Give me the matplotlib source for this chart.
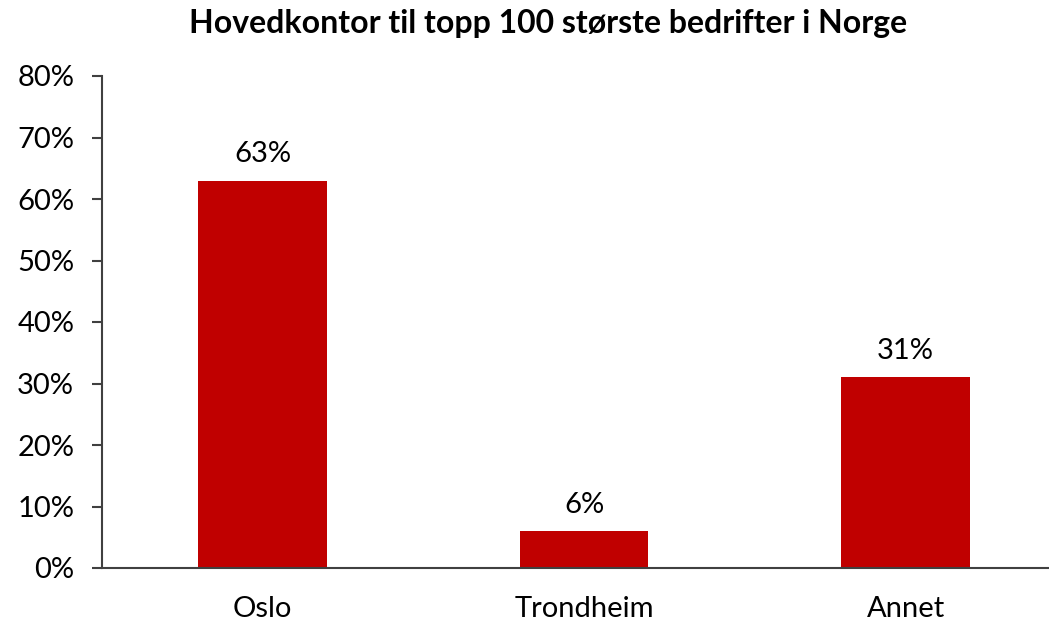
import matplotlib.pyplot as plt
from matplotlib.ticker import PercentFormatter

categories = ["Oslo", "Trondheim", "Annet"]
shares = [63, 6, 31]
labels = ["63%", "6%", "31%"]

plt.rcParams["font.family"] = ["Lato", "DejaVu Sans"]

fig = plt.figure(figsize=(10.49, 6.2), dpi=100)
ax = fig.add_axes([102 / 1049, 1 - 568 / 620, 1 - 102 / 1049, (568 - 76) / 620])

x = list(range(len(categories)))
bars = ax.bar(x, shares, width=0.4, color="#c00000")

for xi, v, lab in zip(x, shares, labels):
    ax.text(xi, v + 2.2, lab, ha="center", va="bottom", fontsize=21)

ax.set_xlim(-0.5, 2.446)
ax.set_ylim(0, 80)
ax.set_yticks(range(0, 81, 10))
ax.yaxis.set_major_formatter(PercentFormatter(decimals=0))
ax.set_xticks(x)
ax.set_xticklabels(categories)

ax.spines["top"].set_visible(False)
ax.spines["right"].set_visible(False)
for s in ("left", "bottom"):
    ax.spines[s].set_color("#404040")
    ax.spines[s].set_linewidth(1.5)
ax.tick_params(axis="y", length=7, width=1.5, color="#404040", labelsize=21, pad=13)
ax.tick_params(axis="x", length=0, labelsize=21, pad=20)

fig.text(548 / 1049, 1 - 23 / 620, "Hovedkontor til topp 100 største bedrifter i Norge",
         ha="center", va="center", fontsize=23, fontweight="bold")

fig.savefig("out.png", dpi=100)
